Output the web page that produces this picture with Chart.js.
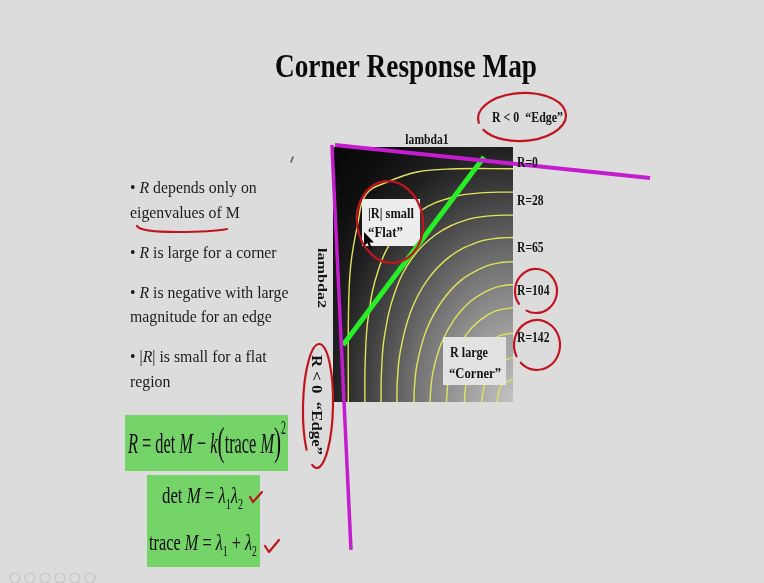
<!DOCTYPE html>
<html>
<head>
<meta charset="utf-8">
<script src="https://cdn.jsdelivr.net/npm/chart.js@4/dist/chart.umd.min.js"></script>
<style>
  html, body { margin: 0; padding: 0; background: #dcdcdc; }
  #map { display: block; }
</style>
</head>
<body>
<canvas id="map" width="764" height="583"></canvas>
<script>
// lambda1 runs 0..100 left to right, lambda2 runs 0..100 top to bottom
const iso1 = [[8.5,100],[8.6,65.5],[9.8,46.7],[13.6,30.7],[18.5,18.5],[30.7,13.6],[46.7,9.8],[65.5,8.6],[100,8.5]];
const iso2 = [[17.7,100],[17.9,83.8],[19.6,66.6],[25.2,48.2],[34.7,34.7],[48.2,25.2],[66.6,19.6],[83.8,17.9],[100,17.7]];
const iso3 = [[26.7,100],[26.9,88.8],[28.6,74.1],[34.4,57.0],[43.8,43.8],[57.0,34.4],[74.1,28.6],[88.8,26.9],[100,26.7]];
const iso4 = [[35.5,100],[35.7,92.3],[37.4,80.1],[43.1,64.7],[52.3,52.3],[64.7,43.1],[80.1,37.4],[92.3,35.7],[100,35.5]];
const iso5 = [[45,100],[45.2,94.6],[46.8,84.8],[52.0,71.6],[60.5,60.5],[71.6,52.0],[84.8,46.8],[94.6,45.2],[100,45]];
const iso6 = [[54,100],[54.2,96.0],[55.6,88.1],[60.2,77.0],[67.5,67.5],[77.0,60.2],[88.1,55.6],[96.0,54.2],[100,54]];
const iso7 = [[63,100],[64.3,90.4],[68.0,81.5],[73.8,73.8],[81.5,68.0],[90.4,64.3],[100,63]];
const iso8 = [[73,100],[73.9,93.0],[76.6,86.5],[80.9,80.9],[86.5,76.6],[93.0,73.9],[100,73]];
const iso9 = [[82.5,100],[84.8,91.3],[87.6,87.6],[91.3,84.8],[100,82.5]];
const iso10 = [[91,100],[93.6,93.6],[100,91]];
const isoLines = [iso1, iso2, iso3, iso4, iso5, iso6, iso7, iso8, iso9, iso10];

// response levels written beside the map, at these lambda2 heights
const levelLabels = ['R=0', 'R=28', 'R=65', 'R=104', 'R=142'];
const levelLabelY = [7.8, 22.7, 41.2, 58.0, 76.5];

// pen strokes over the map
const greenStroke = [[5.6, 77.6], [83.9, 3.9]];
const purpleTop = [[1.1, -0.8], [176.1, 12.2]];
const purpleLeft = [[-0.6, -0.8], [10.0, 158]];

const FONT = '"Liberation Serif", "Times New Roman", serif';
const toXY = pts => pts.map(([x, y]) => ({x, y}));

function drawRuns(ctx, parts, x, y, size, opt = {}) {
  const weight = opt.bold ? 'bold ' : '';
  const fontOf = p => `${p.i ? 'italic ' : ''}${weight}${size * (p.scale || 1)}px ${FONT}`;
  const runs = parts.map(p => typeof p === 'string' ? {t: p} : Object.assign({}, p));
  let total = 0;
  for (const p of runs) {
    ctx.font = fontOf(p);
    p.w = ctx.measureText(p.t).width;
    total += p.w;
  }
  const sx = opt.width ? opt.width / total : (opt.sx || 1);
  ctx.save();
  ctx.translate(x, y);
  if (opt.rotate) ctx.rotate(opt.rotate);
  if (opt.align === 'center') ctx.translate(-total * sx / 2, 0);
  ctx.scale(sx, opt.sy || 1);
  ctx.fillStyle = opt.color || '#141414';
  ctx.textAlign = 'left';
  ctx.textBaseline = 'alphabetic';
  let cx = 0;
  for (const p of runs) {
    ctx.font = fontOf(p);
    ctx.fillText(p.t, cx, (p.dy || 0) * size);
    cx += p.w;
  }
  ctx.restore();
}

function pen(ctx, color, width, path) {
  ctx.save();
  ctx.strokeStyle = color;
  ctx.lineWidth = width;
  ctx.lineCap = 'round';
  ctx.lineJoin = 'round';
  ctx.beginPath();
  path(ctx);
  ctx.stroke();
  ctx.restore();
}

const R = {t: 'R', i: true};
const M = {t: 'M', i: true};
const lam = {t: 'λ', i: true};
const sub = n => ({t: n, scale: 0.6, dy: 0.25});

const bullets = [
  [['• ', R, ' depends only on'], 193],
  [['eigenvalues of M'], 218],
  [['• ', R, ' is large for a corner'], 258],
  [['• ', R, ' is negative with large'], 298],
  [['magnitude for an edge'], 322],
  [['• |', R, '| is small for a flat'], 362],
  [['region'], 387]
];

const mapShading = {
  id: 'mapShading',
  beforeDatasetsDraw(chart) {
    const {ctx, chartArea: {left, top, right, bottom}} = chart;
    const w = right - left, h = bottom - top;
    ctx.save();
    ctx.fillStyle = '#0a0a0a';
    ctx.fillRect(left, top, w, h);
    ctx.beginPath();
    ctx.rect(left, top, w, h);
    ctx.clip();
    ctx.translate(right, bottom);
    ctx.scale(w, h);
    const g = ctx.createRadialGradient(0, 0, 0, 0, 0, 1.45);
    g.addColorStop(0, '#c2c2c2');
    g.addColorStop(0.2, '#9c9c9c');
    g.addColorStop(0.38, '#727272');
    g.addColorStop(0.55, '#444444');
    g.addColorStop(0.69, '#202020');
    g.addColorStop(0.83, '#0e0e0e');
    g.addColorStop(1, '#060606');
    ctx.fillStyle = g;
    ctx.fillRect(-1, -1, 1, 1);
    ctx.restore();
  },
  beforeDatasetDraw(chart, args) {
    // label boxes sit above the iso lines, under the pen strokes
    if (args.index !== isoLines.length) return;
    const ctx = chart.ctx;
    ctx.save();
    ctx.fillStyle = '#ededed';
    ctx.fillRect(362, 199, 58, 47);
    ctx.fillStyle = '#e2e2e2';
    ctx.fillRect(443, 337, 63, 48);
    ctx.restore();
    drawRuns(ctx, ['|R| small'], 368, 218, 15, {bold: true, width: 46});
    drawRuns(ctx, ['“Flat”'], 368, 237, 15, {bold: true, width: 35});
    drawRuns(ctx, ['R large'], 450, 357, 15, {bold: true, width: 38});
    drawRuns(ctx, ['“Corner”'], 449, 378, 15, {bold: true, width: 52});
  },
  afterDraw(chart) {
    const {ctx, chartArea, scales: {y}} = chart;

    drawRuns(ctx, ['Corner Response Map'], 406, 77, 33, {bold: true, width: 262, align: 'center', color: '#0a0a0a'});
    drawRuns(ctx, ['lambda1'], 427, 144, 14, {bold: true, sx: 0.83, align: 'center'});
    drawRuns(ctx, ['lambda2'], 318, 248, 16, {bold: true, rotate: Math.PI / 2, width: 60, sy: 0.83});

    levelLabels.forEach((t, i) => {
      drawRuns(ctx, [t], chartArea.right + 4, y.getPixelForValue(levelLabelY[i]), 14, {bold: true, sx: 0.83});
    });

    drawRuns(ctx, ['R < 0  “Edge”'], 492, 122, 15, {bold: true, width: 71});
    drawRuns(ctx, ['R < 0  “Edge”'], 312, 355, 17, {bold: true, rotate: Math.PI / 2, width: 100, sy: 0.83});

    for (const [parts, base] of bullets) {
      drawRuns(ctx, parts, 130, base, 17, {sx: 0.93, color: '#1c1c1c'});
    }

    // formula boxes
    ctx.save();
    ctx.fillStyle = '#74d468';
    ctx.fillRect(125, 415, 163, 56);
    ctx.fillRect(147, 475, 113, 92);
    ctx.restore();
    drawRuns(ctx, [R, ' = det ', M, ' − ', {t: 'k', i: true}, {t: '(', scale: 1.3, dy: 0.06}, 'trace ', M,
      {t: ')', scale: 1.3, dy: 0.06}, {t: '2', scale: 0.6, dy: -0.62}], 128, 453, 30, {width: 158, color: '#0a0a0a'});
    drawRuns(ctx, ['det ', M, ' = ', lam, sub('1'), lam, sub('2')], 162, 503, 24, {width: 81, color: '#0a0a0a'});
    drawRuns(ctx, ['trace ', M, ' = ', lam, sub('1'), ' + ', lam, sub('2')], 149, 550, 24, {width: 108, color: '#0a0a0a'});

    // red pen marks
    const red = '#c2141e';
    pen(ctx, red, 2.2, c => c.ellipse(522, 117, 44, 24, -0.05, Math.PI * 0.95, Math.PI * 2.85));
    pen(ctx, red, 2.2, c => c.ellipse(390, 222, 33, 41, -0.15, 0, Math.PI * 2));
    pen(ctx, red, 2.2, c => c.ellipse(318, 406, 15, 62, 0.02, Math.PI * 0.75, Math.PI * 2.6));
    pen(ctx, red, 2.2, c => c.ellipse(536, 291, 21, 22, 0, Math.PI * 0.8, Math.PI * 2.65));
    pen(ctx, red, 2.2, c => c.ellipse(537, 345, 23, 25, 0, Math.PI * 0.85, Math.PI * 2.75));
    pen(ctx, red, 2.2, c => { c.moveTo(137, 226); c.quadraticCurveTo(140, 232, 178, 232); c.quadraticCurveTo(212, 232, 227, 229); });
    pen(ctx, red, 2.2, c => { c.moveTo(250, 497); c.lineTo(253, 502); c.lineTo(262, 492); });
    pen(ctx, red, 2.2, c => { c.moveTo(265, 546); c.lineTo(269, 552); c.lineTo(279, 540); });

    // stray pen tick and mouse pointer
    pen(ctx, '#555', 1.5, c => { c.moveTo(293, 157); c.lineTo(291, 162); });
    ctx.save();
    ctx.beginPath();
    ctx.moveTo(364, 232); ctx.lineTo(364, 246); ctx.lineTo(367.5, 243); ctx.lineTo(370, 249);
    ctx.lineTo(372, 248); ctx.lineTo(369.5, 242.5); ctx.lineTo(374, 242.5); ctx.closePath();
    ctx.fillStyle = '#000';
    ctx.fill();
    ctx.restore();

    // faint player controls
    for (let i = 0; i < 6; i++) {
      pen(ctx, '#c4c4c4', 1.2, c => c.arc(15 + i * 15, 578, 5, 0, Math.PI * 2));
    }
  }
};

new Chart(document.getElementById('map'), {
  type: 'scatter',
  data: {
    datasets: [
      ...isoLines.map(pts => ({
        data: toXY(pts),
        showLine: true,
        borderColor: '#e4e35a',
        borderWidth: 1.4,
        pointRadius: 0,
        tension: 0.4,
        order: 3
      })),
      {data: toXY(greenStroke), showLine: true, borderColor: '#27ee27', borderWidth: 5, pointRadius: 0, order: 2, clip: false},
      {data: toXY(purpleTop), showLine: true, borderColor: '#c41ccf', borderWidth: 4, pointRadius: 0, order: 1, clip: false},
      {data: toXY(purpleLeft), showLine: true, borderColor: '#c41ccf', borderWidth: 3.5, pointRadius: 0, order: 1, clip: false}
    ]
  },
  options: {
    responsive: false,
    animation: false,
    devicePixelRatio: 1,
    layout: {padding: {left: 333, top: 147, right: 251, bottom: 181}},
    plugins: {legend: {display: false}, tooltip: {enabled: false}},
    scales: {
      x: {type: 'linear', min: 0, max: 100, display: false},
      y: {type: 'linear', min: 0, max: 100, reverse: true, display: false}
    }
  },
  plugins: [mapShading]
});
</script>
</body>
</html>
